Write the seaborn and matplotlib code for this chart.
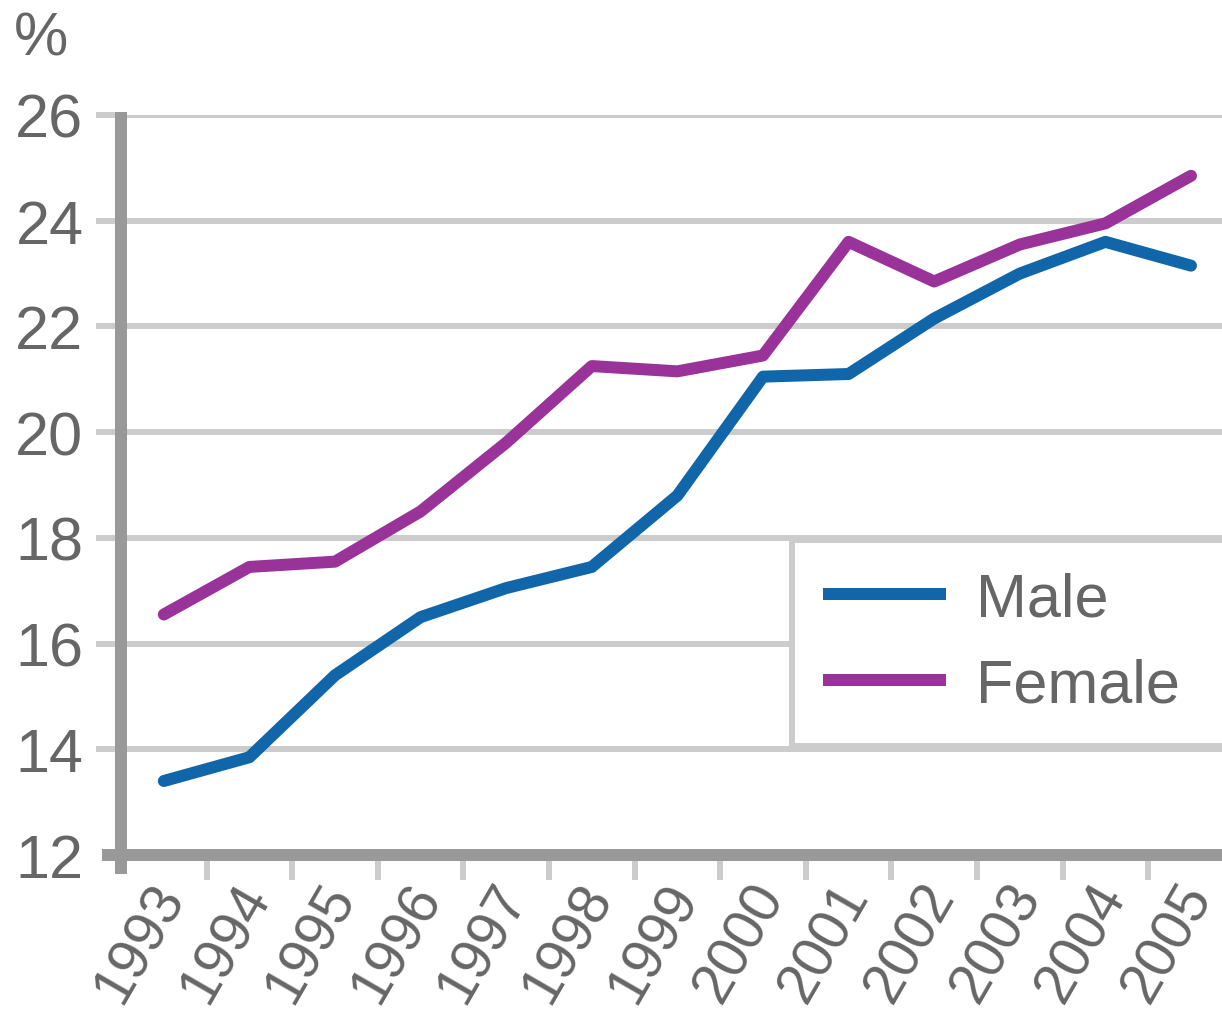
import matplotlib
matplotlib.use("Agg")
import matplotlib.pyplot as plt
import matplotlib.transforms as mtransforms
import seaborn as sns
import pandas as pd
import numpy as np

years = ["1993", "1994", "1995", "1996", "1997", "1998", "1999",
         "2000", "2001", "2002", "2003", "2004", "2005"]
male = [13.4, 13.85, 15.4, 16.5, 17.05, 17.45, 18.8, 21.05, 21.1, 22.15, 23.0, 23.6, 23.15]
female = [16.55, 17.45, 17.55, 18.5, 19.8, 21.25, 21.15, 21.45, 23.6, 22.85, 23.55, 23.95, 24.85]
y_ticks = [12, 14, 16, 18, 20, 22, 24, 26]
series_names = ["Male", "Female"]
colors = {"Male": "#1166aa", "Female": "#993399"}

df = pd.DataFrame({
    "idx": list(range(len(years))) * 2,
    "value": male + female,
    "series": ["Male"] * len(years) + ["Female"] * len(years),
})

sns.set_theme(style="white")
plt.rcParams["font.family"] = ["Liberation Sans", "DejaVu Sans"]

W, H = 1222, 1020
fig = plt.figure(figsize=(W / 100, H / 100), dpi=100)
ax = fig.add_axes([121 / W, (H - 856) / H, (W - 121) / W, (856 - 116) / H])

lw_line = 12 * 72 / 100
lw_grid = 6 * 72 / 100
sns.lineplot(data=df, x="idx", y="value", hue="series", hue_order=series_names,
             palette=colors, linewidth=lw_line, ax=ax, legend=True, zorder=3)

ax.set_xlim(-0.5, -0.5 + 1101 / 85.6)
ax.set_ylim(12, 26)
ax.set_xlabel("")
ax.set_ylabel("")

for s in ax.spines.values():
    s.set_visible(False)

text_color = "#666666"
fs = 44
fs_x = 41

# y axis
ax.set_yticks(y_ticks)
ax.set_yticklabels([str(v) for v in y_ticks])
ax.yaxis.grid(True, color="#cccccc", linewidth=lw_grid)
ax.xaxis.grid(False)
ax.tick_params(axis="y", which="major", length=18, width=lw_grid, color="#cccccc",
               direction="out", pad=9, labelsize=fs, labelcolor=text_color, left=True)
ax.yaxis.get_major_ticks()[0].tick1line.set_visible(False)

# x axis
ax.set_xticks(range(len(years)))
ax.set_xticklabels(years, rotation=60, rotation_mode="anchor", ha="right", va="center")
ax.set_xticks(np.arange(0.5, len(years) - 1, 1.0), minor=True)
ax.tick_params(axis="x", which="major", length=0, pad=23, labelsize=fs_x, labelcolor=text_color,
               bottom=True)
ax.tick_params(axis="x", which="minor", length=18, width=lw_grid, color="#cccccc",
               direction="out", bottom=True)
offset = mtransforms.ScaledTranslation(8 / 100, 0, fig.dpi_scale_trans)
for lab in ax.get_xticklabels():
    lab.set_transform(lab.get_transform() + offset)

# axis lines (Excel-like overshoot)
lw_spine = 12 * 72 / 100
ax.plot([-19 / 1101, 1], [0, 0], transform=ax.transAxes, color="#999999",
        linewidth=lw_spine, solid_capstyle="butt", clip_on=False, zorder=6)
ax.plot([0, 0], [-19 / 740, 1 + 3 / 740], transform=ax.transAxes, color="#999999",
        linewidth=lw_spine, solid_capstyle="butt", clip_on=False, zorder=6)

# legend
handles, labels = ax.get_legend_handles_labels()
leg = ax.legend(handles, labels, loc="upper left",
                bbox_to_anchor=((792 - 121) / 1101, (856 - 747) / 740, 0.6, (747 - 541) / 740),
                mode="expand", borderaxespad=0, fontsize=fs, labelcolor=text_color,
                frameon=True, fancybox=False, framealpha=1, edgecolor="#cccccc",
                facecolor="white", borderpad=0.515, labelspacing=0.47,
                handlelength=2.0, handletextpad=0.5)
leg.get_frame().set_linewidth(lw_grid)
for h in leg.get_lines():
    h.set_linewidth(lw_line)
    h.set_solid_capstyle("butt")
leg.set_zorder(4)

fig.text(14 / W, 1 - 55 / H, "%", ha="left", va="baseline", fontsize=fs, color=text_color)

fig.savefig("out.png", dpi=100, facecolor="white")
